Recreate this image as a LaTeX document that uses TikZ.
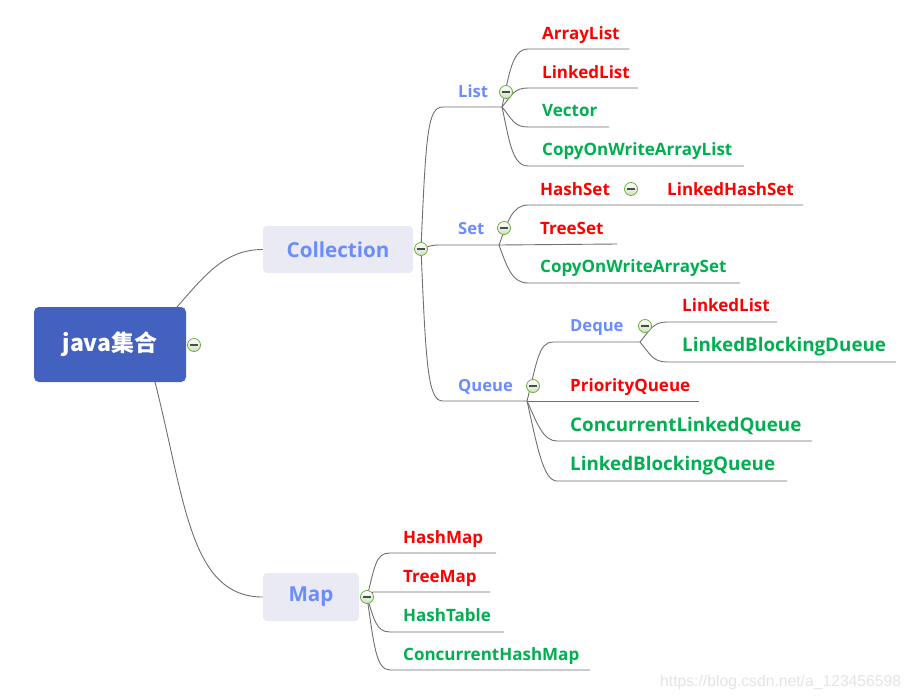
\documentclass[tikz,border=0pt]{standalone}
\usepackage{fontspec}
\setmainfont{Open Sans}
\newfontfamily\cjk{Noto Sans CJK SC}
\newfontfamily\wmfont{Liberation Sans}
\definecolor{rootblue}{HTML}{4361BE}
\definecolor{boxgray}{HTML}{E9EAF3}
\definecolor{midblue}{HTML}{6A8CFF}
\definecolor{leafred}{HTML}{FF0000}
\definecolor{leafgreen}{HTML}{00B050}
\definecolor{linegray}{HTML}{707070}
\definecolor{foldgreen}{HTML}{6AAE3A}
\definecolor{foldfill}{HTML}{CFE0C4}
\definecolor{markgray}{HTML}{E4E4E4}
\begin{document}
\begin{tikzpicture}[x=1pt,y=-1pt,
  conn/.style={draw=linegray,line width=0.9pt},
  leafr/.style={anchor=base west,inner sep=0pt,text=leafred,font=\bfseries\fontsize{17}{20}\selectfont},
  leafg/.style={anchor=base west,inner sep=0pt,text=leafgreen,font=\bfseries\fontsize{17}{20}\selectfont},
  leafgbig/.style={anchor=base west,inner sep=0pt,text=leafgreen,font=\bfseries\fontsize{18.8}{22}\selectfont},
  midtxt/.style={anchor=base west,inner sep=0pt,text=midblue,font=\bfseries\fontsize{16.6}{20}\selectfont},
  topbox/.style={fill=boxgray,rounded corners=4pt,inner sep=0pt,text=midblue,font=\bfseries\fontsize{20.6}{24}\selectfont},
  rootbox/.style={fill=rootblue,rounded corners=5pt,inner sep=0pt,text=white,font=\cjk\bfseries\fontsize{23}{26}\selectfont},
  fold/.style={circle,draw=foldgreen,line width=0.8pt,top color=white,bottom color=foldfill,minimum size=13pt,inner sep=0pt,
    path picture={\draw[line width=1.1pt,draw=black!70] ([xshift=-3.6pt]path picture bounding box.center) -- ([xshift=3.6pt]path picture bounding box.center);}},
  wmark/.style={anchor=base west,inner sep=0pt,text=markgray,font=\wmfont\fontsize{15.7}{18}\selectfont}
]
\useasboundingbox[fill=white] (0,0) rectangle (912,699);

% main boxes
\node[rootbox,minimum width=152pt,minimum height=75pt] (root) at (110,344.5) {java集合};
\node[topbox,minimum width=150pt,minimum height=47pt] (coll) at (338,249.5) {Collection};
\node[topbox,minimum width=96pt,minimum height=48pt] (map) at (311,597) {Map};

% coordinates
\coordinate (root-top) at (177,307);
\coordinate (root-bot) at (155,382);
\coordinate (coll-c) at (421,249);
\coordinate (map-c) at (367,597);
\coordinate (List-s) at (443,107);   \coordinate (List-e) at (502,107);
\coordinate (Set-s) at (440,245);    \coordinate (Set-e) at (499,245);
\coordinate (Queue-s) at (443,401);  \coordinate (Queue-e) at (527,401);
\coordinate (Deque-s) at (553,342);  \coordinate (Deque-e) at (640,342);
\coordinate (AL-s) at (528,49);   \coordinate (AL-e) at (629,49);
\coordinate (LL-s) at (528,88);   \coordinate (LL-e) at (638,88);
\coordinate (Vec-s) at (528,127); \coordinate (Vec-e) at (609,127);
\coordinate (COWAL-s) at (528,166); \coordinate (COWAL-e) at (744,166);
\coordinate (HS-s) at (528,205);  \coordinate (HS-e) at (655,205);
\coordinate (LHS-e) at (803,205);
\coordinate (TS-e) at (617,244);
\coordinate (COWAS-s) at (528,283); \coordinate (COWAS-e) at (740,283);
\coordinate (DLL-s) at (667,322); \coordinate (DLL-e) at (777,322);
\coordinate (LBD-s) at (667,362); \coordinate (LBD-e) at (896,362);
\coordinate (PQ-e) at (699,401);
\coordinate (CLQ-s) at (557,441); \coordinate (CLQ-e) at (812,441);
\coordinate (LBQ-s) at (557,481); \coordinate (LBQ-e) at (787,481);
\coordinate (HM-s) at (390,553); \coordinate (HM-e) at (496,553);
\coordinate (TM-s) at (373,592); \coordinate (TM-e) at (490,592);
\coordinate (HT-s) at (390,632); \coordinate (HT-e) at (504,632);
\coordinate (CHM-s) at (390,670); \coordinate (CHM-e) at (590,670);

% connectors
\draw[conn] (root-top) .. controls +(28,-32) and +(-38,0) .. (coll.west);
\draw[conn] (root-bot) .. controls +(30,118) and +(-73,0) .. (map.west);

\draw[conn] (coll-c) .. controls +(5,-119) and +(-15,0) .. (List-s) -- (List-e);
\draw[conn] (coll-c) .. controls +(8,-3) and +(-8,0) .. (Set-s) -- (Set-e);
\draw[conn] (coll-c) .. controls +(5,119) and +(-15,0) .. (Queue-s) -- (Queue-e);

\draw[conn] (List-e) .. controls +(7,-32) and +(-16,0) .. (AL-s) -- (AL-e);
\draw[conn] (List-e) .. controls +(10,-12) and +(-14,0) .. (LL-s) -- (LL-e);
\draw[conn] (List-e) .. controls +(10,12) and +(-14,0) .. (Vec-s) -- (Vec-e);
\draw[conn] (List-e) .. controls +(7,32) and +(-16,0) .. (COWAL-s) -- (COWAL-e);

\draw[conn] (Set-e) .. controls +(8,-22) and +(-16,0) .. (HS-s) -- (HS-e) -- (LHS-e);
\draw[conn] (Set-e) -- (TS-e);
\draw[conn] (Set-e) .. controls +(8,22) and +(-16,0) .. (COWAS-s) -- (COWAS-e);

\draw[conn] (Queue-e) .. controls +(10,-40) and +(-14,0) .. (Deque-s) -- (Deque-e);
\draw[conn] (Queue-e) -- (PQ-e);
\draw[conn] (Queue-e) .. controls +(10,22) and +(-14,0) .. (CLQ-s) -- (CLQ-e);
\draw[conn] (Queue-e) .. controls +(10,44) and +(-14,0) .. (LBQ-s) -- (LBQ-e);

\draw[conn] (Deque-e) .. controls +(10,-12) and +(-14,0) .. (DLL-s) -- (DLL-e);
\draw[conn] (Deque-e) .. controls +(10,12) and +(-14,0) .. (LBD-s) -- (LBD-e);

\draw[conn] (map-c) .. controls +(8,-32) and +(-14,0) .. (HM-s) -- (HM-e);
\draw[conn] (map-c) -- (TM-s) -- (TM-e);
\draw[conn] (map-c) .. controls +(7,22) and +(-14,0) .. (HT-s) -- (HT-e);
\draw[conn] (map-c) .. controls +(7,48) and +(-14,0) .. (CHM-s) -- (CHM-e);

% mid labels
\node[midtxt] (tList) at (458,97.7) {List};
\node[midtxt] (tSet) at (458,234) {Set};
\node[midtxt] (tQueue) at (458,391.7) {Queue};
\node[midtxt] (tDeque) at (570,331.7) {Deque};

% leaves
\node[leafr] (tAL) at (542,39.3) {ArrayList};
\node[leafr] (tLL) at (542,78.3) {LinkedList};
\node[leafg] (tVec) at (542,116.7) {Vector};
\node[leafg] (tCOWAL) at (542,155.7) {CopyOnWriteArrayList};
\node[leafr] (tHS) at (540,195) {HashSet};
\node[leafr] (tLHS) at (667,195) {LinkedHashSet};
\node[leafr] (tTS) at (540,234) {TreeSet};
\node[leafg] (tCOWAS) at (540,272.7) {CopyOnWriteArraySet};
\node[leafr] (tDLL) at (682,311.7) {LinkedList};
\node[leafgbig] (tLBD) at (682,351.7) {LinkedBlockingDueue};
\node[leafr] (tPQ) at (570,391) {PriorityQueue};
\node[leafgbig] (tCLQ) at (570,431) {ConcurrentLinkedQueue};
\node[leafgbig] (tLBQ) at (570,470) {LinkedBlockingQueue};
\node[leafr] (tHM) at (403,543.3) {HashMap};
\node[leafr] (tTM) at (403,582.3) {TreeMap};
\node[leafg] (tHT) at (403,621) {HashTable};
\node[leafg] (tCHM) at (403,660) {ConcurrentHashMap};

% fold markers
\node[fold] (f-root) at (194,345) {};
\node[fold] (f-coll) at (coll-c) {};
\node[fold] (f-list) at (506,92) {};
\node[fold] (f-set) at (504,228) {};
\node[fold] (f-hs) at (631,189) {};
\node[fold] (f-queue) at (533,386) {};
\node[fold] (f-deque) at (645,326) {};
\node[fold] (f-map) at (map-c) {};

% watermark
\node[wmark] (wm) at (660,686) {https://blog.csdn.net/a\_123456598};
\end{tikzpicture}
\end{document}
